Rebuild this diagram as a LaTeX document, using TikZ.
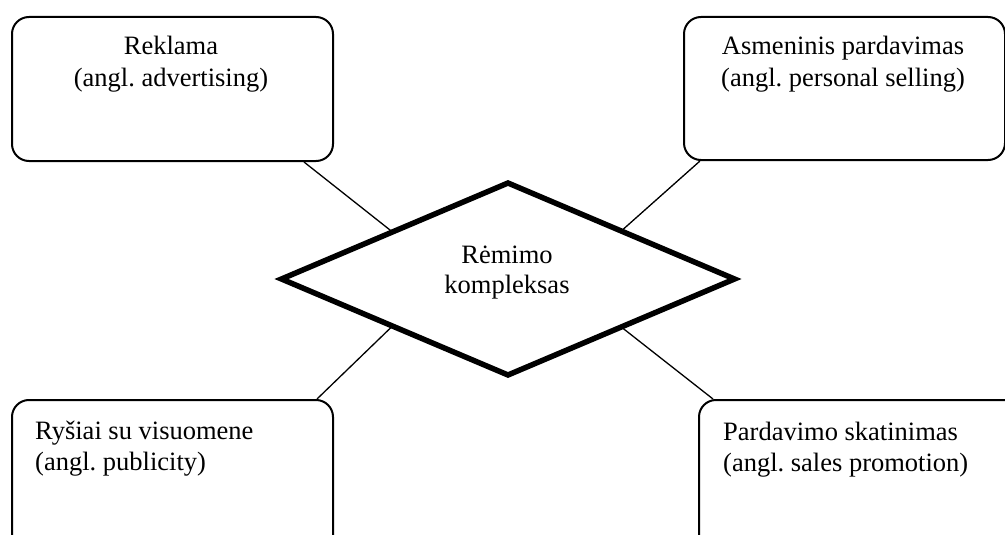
\documentclass[tikz,border=0pt]{standalone}
\usepackage{fontspec}
\setmainfont{Liberation Serif}
\usetikzlibrary{shapes.geometric,calc}
\frenchspacing
\begin{document}
\begin{tikzpicture}[x=1pt,y=-1pt,
  box/.style={draw, line width=2pt, rounded corners=17pt, inner sep=0pt,
    minimum width=321pt, anchor=north west},
  txt/.style={font=\fontsize{26.5}{32}\selectfont, inner sep=0pt},
  link/.style={line width=1.3pt}]
  \clip (0,0) rectangle (1005,535);
  \fill[white] (0,0) rectangle (1005,535);

  % the four boxes
  \node[box, minimum height=144pt] (tl) at (11,16) {};
  \node[box, minimum height=143pt] (tr) at (683,16) {};
  \node[box, minimum height=170pt] (bl) at (11,399) {};
  \node[box, minimum height=170pt] (br) at (698,399) {};

  % box texts
  \node[txt, anchor=base] (tl1) at (171,55) {Reklama};
  \node[txt, anchor=base] (tl2) at (171,87) {(angl. advertising)};
  \node[txt, anchor=base] (tr1) at (843,55) {Asmeninis pardavimas};
  \node[txt, anchor=base] (tr2) at (843,87) {(angl. personal selling)};
  \node[txt, anchor=base west] (bl1) at (35,439) {Ryšiai su visuomene};
  \node[txt, anchor=base west] (bl2) at (35,470) {(angl. publicity)};
  \node[txt, anchor=base west] (br1) at (723,440) {Pardavimo skatinimas};
  \node[txt, anchor=base west] (br2) at (723,471) {(angl. sales promotion)};

  % central diamond
  \node[diamond, draw, line width=5.5pt, inner sep=0pt, outer sep=0pt,
    minimum width=453pt, minimum height=192pt] (d) at (508,279) {};
  \node[txt, anchor=base] (d1) at (507,263) {Rėmimo};
  \node[txt, anchor=base] (d2) at (507,293) {kompleksas};

  % connectors from the boxes to the diamond
  \draw[link] ($(tl.south east)+(-30,0)$) -- ($(d.west)!0.49!(d.north)$);
  \draw[link] ($(tr.south west)+(17,0)$) -- ($(d.east)!0.5!(d.north)$);
  \draw[link] ($(bl.north east)+(-17,0)$) -- ($(d.west)!0.49!(d.south)$);
  \draw[link] ($(br.north west)+(15,0)$) -- ($(d.east)!0.5!(d.south)$);
\end{tikzpicture}
\end{document}
